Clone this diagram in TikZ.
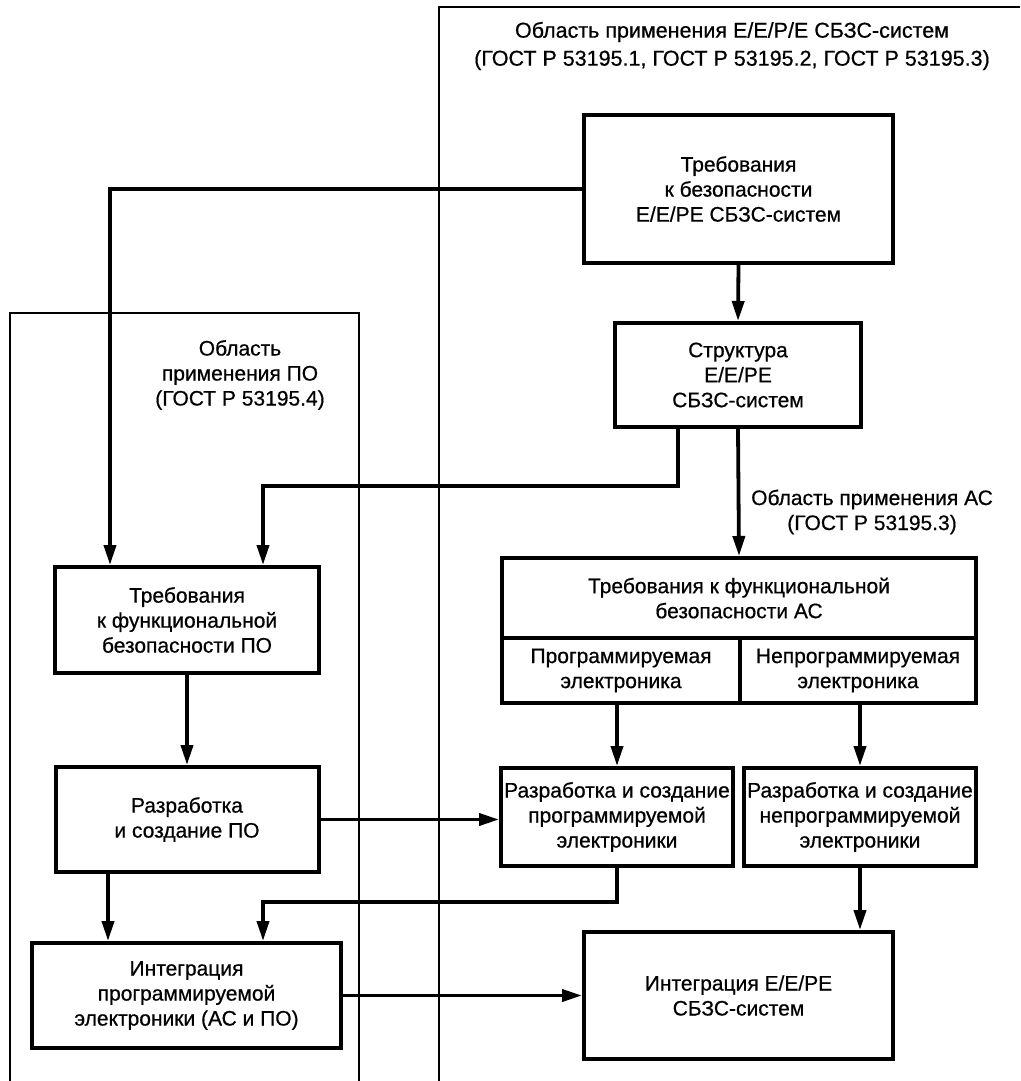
\documentclass[tikz,border=0pt]{standalone}
\usepackage{fontspec}
\setmainfont{Liberation Sans}[FakeBold=0.6]
\usetikzlibrary{arrows.meta}
\newcommand{\boxfont}{\fontsize{21pt}{25pt}\selectfont}
\newcommand{\titlefont}{\fontsize{21.5pt}{28pt}\selectfont}
\begin{document}
\begin{tikzpicture}[x=1pt,y=-1pt,
  >={Triangle[length=20pt,width=12pt]},
  box/.style={draw, line width=4pt, align=center, inner sep=0pt, font=\boxfont},
  cell/.style={draw, line width=3.2pt, align=center, inner sep=0pt, font=\boxfont},
  lbl/.style={align=center, inner sep=0pt, font=\boxfont},
  arr/.style={->, line width=3.8pt},
  frame/.style={line width=1.8pt}]
\useasboundingbox (0,0) rectangle (1020,1081);
\draw[frame] (439,1081) -- (439,7) -- (1020,7);
\draw[frame] (10,1081) -- (10,313) -- (359,313) -- (359,1081);
\node[lbl, font=\titlefont] (scopeSys) at (732,46) {Область применения Е/Е/Р/Е СБЗС-систем\\(ГОСТ Р 53195.1, ГОСТ Р 53195.2, ГОСТ Р 53195.3)};
\node[lbl] (scopePO) at (240,375) {Область\\применения ПО\\(ГОСТ Р 53195.4)};
\node[box, minimum width=309pt, minimum height=148pt] (reqSys) at (738.5,189) {Требования\\к безопасности\\Е/Е/РЕ СБЗС-систем};
\node[box, minimum width=246pt, minimum height=104pt] (archSys) at (738,375) {Структура\\Е/Е/РЕ\\СБЗС-систем};
\node[box, minimum width=474pt, minimum height=80pt] (reqAC) at (739,598) {Требования к функциональной\\безопасности АС};
\node[cell, minimum width=238pt, minimum height=65pt] (progAC) at (621,670.5) {Программируемая\\электроника};
\node[cell, minimum width=236pt, minimum height=65pt] (nonprogAC) at (858,670.5) {Непрограммируемая\\электроника};
\node[lbl, anchor=west] (scopeAC) at (751,512) {Область применения АС\\(ГОСТ Р 53195.3)};
\node[box, minimum width=232pt, minimum height=98pt] (devProg) at (617,817) {Разработка и создание\\программируемой\\электроники};
\node[box, minimum width=232pt, minimum height=98pt] (devNonprog) at (860,817) {Разработка и создание\\непрограммируемой\\электроники};
\node[box, minimum width=309pt, minimum height=127pt] (intSys) at (738.5,995.5) {Интеграция Е/Е/РЕ\\СБЗС-систем};
\node[box, minimum width=264pt, minimum height=106pt] (reqPO) at (187,620) {Требования\\к функциональной\\безопасности ПО};
\node[box, minimum width=263pt, minimum height=105pt] (devPO) at (187,819.5) {Разработка\\и создание ПО};
\node[box, minimum width=309pt, minimum height=105pt] (intProg) at (186.5,995.5) {Интеграция\\программируемой\\электроники (АС и ПО)};
\draw[arr] (reqSys.west) -| ([xshift=-77pt]reqPO.north);
\draw[arr] (reqSys.south) -- (archSys.north);
\draw[arr] ([xshift=-60pt]archSys.south) -- ++(0,57) -| ([xshift=76pt]reqPO.north);
\draw[arr] (archSys.south) -- (reqAC.north);
\draw[arr] (progAC.south -| devProg.north) -- (devProg.north);
\draw[arr] (nonprogAC.south -| devNonprog.north) -- (devNonprog.north);
\draw[arr] (reqPO.south) -- (devPO.north);
\draw[arr] (devPO.east) -- (devPO.east -| devProg.west);
\draw[arr] ([xshift=-79pt]devPO.south) -- ([xshift=-79pt]devPO.south |- intProg.north);
\draw[arr] (devProg.south) -- ++(0,34) -| ([xshift=76.5pt]intProg.north);
\draw[arr] (devNonprog.south) -- (devNonprog.south |- intSys.north);
\draw[arr] (intProg.east) -- (intSys.west);
\end{tikzpicture}
\end{document}
